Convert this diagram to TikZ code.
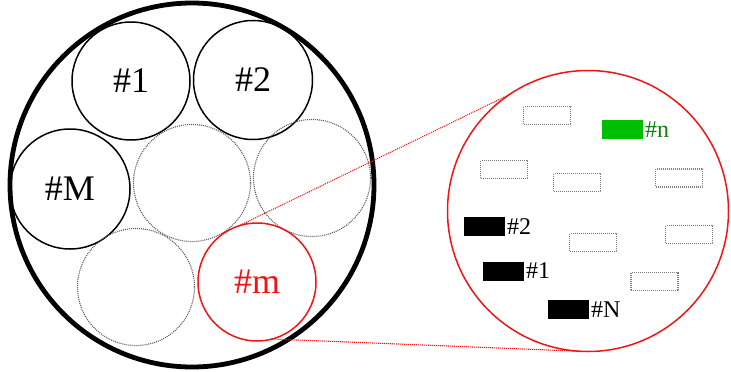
\documentclass[tikz,border=0pt]{standalone}
\usepackage{fontspec}
\setmainfont{Liberation Serif}
\definecolor{linered}{RGB}{240,20,20}
\definecolor{boxgreen}{RGB}{0,190,0}
\definecolor{textgreen}{RGB}{20,125,20}
\definecolor{dotgray}{RGB}{90,90,90}
\begin{document}
\begin{tikzpicture}[x=1pt,y=-1pt,
  cell/.style={circle,draw,line width=1.5pt,inner sep=0pt,outer sep=0pt,minimum size=#1,font=\fontsize{36}{40}\selectfont},
  cell/.default=118pt,
  emptycell/.style={circle,draw=dotgray,line width=1.1pt,dash pattern=on 1pt off 1pt,inner sep=0pt,outer sep=0pt,minimum size=#1},
  emptycell/.default=117pt,
  slot/.style={rectangle,draw=dotgray!80,line width=1.1pt,dash pattern=on 1pt off 1pt,minimum width=47pt,minimum height=18pt,inner sep=0pt,outer sep=0pt},
  item/.style={rectangle,fill=#1,minimum width=41pt,minimum height=19pt,inner sep=0pt,outer sep=0pt},
  itemlabel/.style={anchor=west,inner sep=2.5pt,font=\fontsize{24}{27}\selectfont},
  zoomline/.style={linered,line width=1.1pt,dash pattern=on 1pt off 1pt}]
\useasboundingbox (0,0) rectangle (731,372);

% outer bundle
\node[circle,draw,line width=4.8pt,inner sep=0pt,minimum size=364pt] (bundle) at (192,185) {};

% labelled cells
\node[cell] (c1) at (131,81) {\#1};
\node[cell=119pt] (c2) at (253,80) {\#2};
\node[cell=120pt] (cM) at (70,189) {\#M};

% empty cells
\node[emptycell] (e1) at (192,183) {};
\node[emptycell] (e2) at (312,178) {};
\node[emptycell] (e3) at (136,287) {};

% highlighted cell
\node[cell=118pt,draw=linered,text=linered] (cm) at (257,282) {\#m};

% magnified view
\node[circle,draw=linered,line width=1.5pt,inner sep=0pt,outer sep=0pt,minimum size=281pt] (zoom) at (588,211) {};

\draw[zoomline] (cm.108) -- (zoom.124);
\draw[zoomline] (cm.-75) -- (zoom.-93);

% empty slots
\node[slot] (s1) at (547,115.5) {};
\node[slot] (s2) at (504,169.5) {};
\node[slot] (s3) at (577,182.5) {};
\node[slot] (s4) at (679,178) {};
\node[slot] (s5) at (593,242.5) {};
\node[slot] (s6) at (689,234.5) {};
\node[slot] (s7) at (654.5,281.5) {};

% occupied slots
\node[item=boxgreen] (bn) at (622,129.5) {};
\node[itemlabel,text=textgreen] (ln) at (bn.east) {\#n};
\node[item=black] (b2) at (484,226.5) {};
\node[itemlabel] (l2) at (b2.east) {\#2};
\node[item=black] (b1) at (503,271) {};
\node[itemlabel] (l1) at (b1.east) {\#1};
\node[item=black] (bN) at (568,309.5) {};
\node[itemlabel] (lN) at (bN.east) {\#N};
\end{tikzpicture}
\end{document}
